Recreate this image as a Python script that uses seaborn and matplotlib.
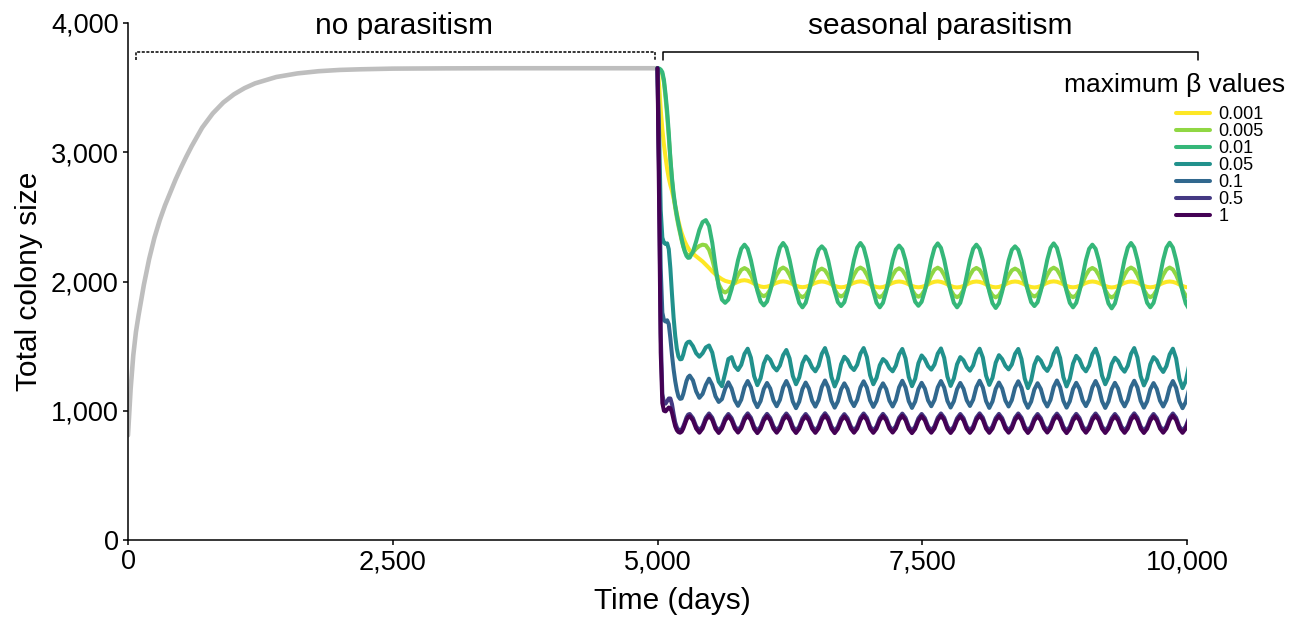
import numpy as np
import pandas as pd
import matplotlib
matplotlib.use("Agg")
import matplotlib.pyplot as plt
from matplotlib.lines import Line2D
from matplotlib.ticker import FuncFormatter
import seaborn as sns

sns.set_theme(style="ticks")
plt.rcParams['font.family'] = ['Liberation Sans', 'DejaVu Sans']
plt.rcParams.update({'axes.edgecolor': 'black', 'text.color': 'black',
                     'xtick.color': 'black', 'ytick.color': 'black',
                     'axes.labelcolor': 'black'})

# ---------------- data ----------------
beta_labels = ["0.001", "0.005", "0.01", "0.05", "0.1", "0.5", "1"]

# phase 1: no parasitism (days 0-5000)
no_par_time = [0, 25, 50, 75, 100, 150, 200, 250, 300, 350, 400, 450, 500, 550, 600,
               700, 800, 900, 1000, 1100, 1200, 1400, 1600, 1800, 2000, 2200, 2500,
               3000, 3500, 5000]
no_par_size = [810, 1170, 1430, 1610, 1740, 1975, 2175, 2340, 2475, 2590, 2690, 2790,
               2880, 2965, 3045, 3190, 3300, 3385, 3448, 3496, 3533, 3582, 3610, 3627,
               3637, 3642, 3647, 3649, 3650, 3650]

# phase 2: seasonal parasitism (days 5000-10000), sampling times
t_early = 5000 + (365 / 24) * np.arange(20)
t_late = 5000 + (365 / 12) * np.arange(10, 168)
par_time = np.concatenate([t_early, t_late])

size_0001 = [
    3650, 3520, 3330, 3180, 3060, 2960, 2870, 2800, 2745, 2700,
    2645, 2585, 2525, 2468, 2418, 2375, 2340, 2308, 2282, 2260,
    2240, 2215,
    2195, 2175, 2155, 2130, 2105, 2078, 2055, 2035, 2018, 2005, 1998, 1993,
    1986, 1998, 2007, 2010, 2006, 1996, 1983, 1970, 1961, 1957, 1960, 1968,
    1979, 1990, 1998, 2001, 1998, 1990, 1979, 1967, 1959, 1956, 1959, 1967,
    1978, 1989, 1997, 2000, 1997, 1989, 1978, 1966, 1958, 1955, 1958, 1966,
    1979, 1990, 1998, 2001, 1998, 1989, 1977, 1965, 1957, 1954, 1957, 1966,
    1978, 1989, 1997, 2000, 1997, 1989, 1978, 1966, 1958, 1955, 1958, 1966,
    1978, 1990, 1998, 2001, 1997, 1989, 1978, 1966, 1957, 1954, 1957, 1965,
    1977, 1989, 1997, 2000, 1997, 1989, 1978, 1966, 1958, 1955, 1958, 1966,
    1978, 1989, 1997, 2000, 1997, 1988, 1977, 1965, 1957, 1954, 1957, 1966,
    1978, 1990, 1998, 2001, 1998, 1989, 1978, 1966, 1958, 1955, 1958, 1966,
    1977, 1989, 1997, 2000, 1997, 1989, 1978, 1966, 1957, 1954, 1957, 1965,
    1977, 1989, 1997, 2000, 1997, 1989, 1978, 1966, 1958, 1955, 1958, 1966,
    1978, 1989, 1997, 2000, 1997, 1989, 1977, 1965, 1957, 1954, 1957, 1966,
]

size_0005 = [
    3650, 3645, 3630, 3605, 3540, 3420, 3280, 3110, 2930, 2780,
    2660, 2570, 2495, 2430, 2372, 2318, 2270, 2235, 2212, 2203,
    2205, 2225,
    2255, 2275, 2285, 2280, 2245, 2170, 2070, 1980, 1930, 1915, 1930, 1965,
    1995, 2050, 2090, 2104, 2090, 2050, 1995, 1940, 1900, 1886, 1900, 1938,
    1994, 2051, 2093, 2108, 2093, 2051, 1994, 1936, 1894, 1878, 1894, 1936,
    1993, 2047, 2086, 2100, 2086, 2047, 1993, 1938, 1898, 1884, 1898, 1938,
    1994, 2051, 2093, 2108, 2093, 2051, 1994, 1936, 1894, 1878, 1894, 1936,
    1993, 2048, 2088, 2102, 2088, 2048, 1993, 1937, 1897, 1882, 1897, 1937,
    1994, 2050, 2092, 2107, 2092, 2050, 1994, 1936, 1894, 1878, 1894, 1936,
    1993, 2049, 2090, 2105, 2090, 2049, 1993, 1935, 1893, 1877, 1893, 1935,
    1993, 2047, 2086, 2100, 2086, 2047, 1993, 1938, 1898, 1884, 1898, 1938,
    1994, 2050, 2092, 2107, 2092, 2050, 1994, 1936, 1894, 1878, 1894, 1936,
    1993, 2049, 2090, 2105, 2090, 2049, 1993, 1935, 1892, 1876, 1892, 1935,
    1994, 2051, 2093, 2108, 2093, 2051, 1994, 1936, 1894, 1878, 1894, 1936,
    1994, 2051, 2093, 2108, 2093, 2051, 1993, 1934, 1891, 1875, 1891, 1934,
]

size_001 = [
    3650, 3648, 3640, 3620, 3560, 3450, 3320, 3150, 2950, 2800,
    2680, 2590, 2515, 2450, 2390, 2330, 2275, 2230, 2198, 2183,
    2185, 2230,
    2310, 2400, 2460, 2475, 2430, 2300, 2120, 1960, 1860, 1835, 1860, 1940,
    2045, 2165, 2253, 2285, 2253, 2165, 2045, 1928, 1845, 1815, 1845, 1928,
    2045, 2168, 2262, 2298, 2262, 2168, 2045, 1925, 1835, 1800, 1835, 1925,
    2045, 2162, 2245, 2272, 2245, 2162, 2045, 1927, 1840, 1810, 1840, 1927,
    2045, 2168, 2262, 2298, 2262, 2168, 2045, 1925, 1835, 1800, 1835, 1925,
    2045, 2163, 2248, 2278, 2248, 2163, 2045, 1928, 1843, 1812, 1843, 1928,
    2045, 2168, 2260, 2295, 2260, 2168, 2045, 1925, 1835, 1800, 1835, 1925,
    2045, 2165, 2253, 2285, 2253, 2165, 2045, 1922, 1832, 1795, 1832, 1922,
    2045, 2162, 2245, 2272, 2245, 2162, 2045, 1927, 1840, 1810, 1840, 1927,
    2045, 2168, 2260, 2295, 2260, 2168, 2045, 1925, 1835, 1800, 1835, 1925,
    2045, 2165, 2253, 2285, 2253, 2165, 2045, 1922, 1830, 1792, 1830, 1922,
    2045, 2168, 2262, 2298, 2262, 2168, 2045, 1925, 1835, 1800, 1835, 1925,
    2045, 2168, 2262, 2300, 2262, 2168, 2045, 1922, 1830, 1788, 1830, 1922,
]

size_005 = [
    3650, 3150, 2550, 2340, 2300, 2290, 2295, 2250, 2100, 1900,
    1720, 1580, 1480, 1420, 1398, 1400, 1435, 1485, 1520, 1532,
    1535, 1500,
    1445, 1418, 1445, 1490, 1505, 1450, 1330, 1225, 1190, 1290, 1400, 1415,
    1345, 1315, 1355, 1440, 1480, 1410, 1268, 1198, 1252, 1365, 1422, 1395,
    1340, 1312, 1350, 1430, 1470, 1405, 1270, 1205, 1258, 1368, 1420, 1390,
    1335, 1305, 1348, 1440, 1485, 1410, 1262, 1188, 1246, 1360, 1418, 1392,
    1340, 1315, 1356, 1442, 1485, 1415, 1275, 1205, 1255, 1352, 1400, 1378,
    1330, 1305, 1350, 1436, 1478, 1405, 1262, 1190, 1248, 1368, 1428, 1398,
    1345, 1318, 1358, 1442, 1482, 1410, 1265, 1192, 1250, 1360, 1415, 1390,
    1338, 1310, 1352, 1438, 1480, 1412, 1272, 1200, 1255, 1372, 1430, 1400,
    1348, 1320, 1358, 1440, 1478, 1400, 1250, 1175, 1236, 1356, 1415, 1388,
    1336, 1308, 1352, 1440, 1484, 1408, 1260, 1188, 1248, 1365, 1425, 1396,
    1335, 1305, 1350, 1438, 1480, 1410, 1272, 1205, 1258, 1362, 1410, 1385,
    1332, 1302, 1348, 1440, 1485, 1412, 1268, 1196, 1250, 1360, 1415, 1390,
    1335, 1300, 1346, 1436, 1480, 1405, 1250, 1175, 1230, 1345, 1405, 1380,
]

size_01 = [
    3650, 2900, 2100, 1760, 1700, 1690, 1700, 1670, 1560, 1430,
    1320, 1230, 1160, 1110, 1092, 1095, 1130, 1180, 1230, 1260,
    1272, 1235,
    1150, 1100, 1130, 1200, 1248, 1200, 1112, 1068, 1090, 1170, 1220, 1172,
    1082, 1038, 1086, 1182, 1230, 1180, 1078, 1028, 1075, 1168, 1215, 1172,
    1080, 1035, 1084, 1181, 1230, 1177, 1072, 1020, 1070, 1168, 1218, 1172,
    1078, 1032, 1083, 1183, 1234, 1181, 1076, 1024, 1072, 1165, 1212, 1168,
    1080, 1036, 1085, 1180, 1228, 1179, 1080, 1030, 1076, 1166, 1212, 1168,
    1078, 1033, 1083, 1181, 1232, 1180, 1074, 1022, 1071, 1168, 1216, 1171,
    1080, 1035, 1084, 1181, 1230, 1179, 1076, 1025, 1073, 1167, 1215, 1170,
    1081, 1037, 1086, 1183, 1232, 1180, 1075, 1022, 1072, 1169, 1218, 1172,
    1079, 1033, 1082, 1179, 1228, 1177, 1074, 1023, 1071, 1165, 1213, 1168,
    1078, 1033, 1084, 1184, 1234, 1182, 1077, 1024, 1073, 1168, 1216, 1170,
    1080, 1036, 1085, 1181, 1230, 1178, 1074, 1022, 1071, 1167, 1216, 1171,
    1079, 1034, 1084, 1182, 1232, 1180, 1076, 1024, 1072, 1166, 1214, 1169,
    1078, 1033, 1083, 1180, 1230, 1178, 1073, 1020, 1068, 1163, 1212, 1168,
]

size_05 = [
    3650, 2800, 1600, 1130, 1060, 1055, 1075, 1095, 1095, 1050,
    975, 910, 872, 852, 846, 854, 879, 912, 948, 970,
    975, 943,
    879, 847, 880, 946, 979, 946, 878, 845, 878, 942, 975, 943,
    880, 848, 881, 947, 980, 946, 877, 844, 877, 942, 976, 944,
    879, 847, 880, 946, 979, 946, 878, 845, 878, 942, 975, 943,
    878, 846, 880, 947, 981, 947, 878, 844, 877, 941, 974, 942,
    879, 847, 880, 946, 979, 946, 878, 846, 879, 943, 976, 944,
    880, 848, 881, 946, 978, 945, 877, 844, 877, 942, 975, 943,
    879, 847, 880, 946, 979, 946, 878, 845, 878, 942, 975, 943,
    878, 846, 880, 947, 980, 947, 879, 846, 879, 943, 976, 943,
    879, 847, 880, 946, 979, 946, 878, 845, 878, 942, 975, 943,
    880, 848, 881, 946, 978, 945, 877, 844, 877, 942, 976, 944,
    879, 847, 880, 946, 979, 946, 878, 845, 878, 942, 975, 943,
    878, 846, 880, 947, 980, 946, 878, 845, 878, 942, 975, 943,
    879, 847, 880, 946, 979, 946, 878, 846, 879, 943, 975, 943,
]

size_1 = [
    3650, 2600, 1450, 1060, 1000, 995, 1010, 1025, 1020, 985,
    930, 880, 850, 835, 830, 838, 862, 895, 930, 952,
    958, 926,
    862, 830, 863, 929, 962, 929, 861, 828, 861, 925, 958, 926,
    863, 831, 864, 930, 963, 929, 860, 827, 860, 925, 959, 927,
    862, 830, 863, 929, 962, 929, 861, 828, 861, 925, 958, 926,
    861, 829, 863, 930, 964, 930, 861, 827, 860, 924, 957, 925,
    862, 830, 863, 929, 962, 929, 861, 829, 862, 926, 959, 927,
    863, 831, 864, 929, 961, 928, 860, 827, 860, 925, 958, 926,
    862, 830, 863, 929, 962, 929, 861, 828, 861, 925, 958, 926,
    861, 829, 863, 930, 963, 930, 862, 829, 862, 926, 959, 926,
    862, 830, 863, 929, 962, 929, 861, 828, 861, 925, 958, 926,
    863, 831, 864, 929, 961, 928, 860, 827, 860, 925, 959, 927,
    862, 830, 863, 929, 962, 929, 861, 828, 861, 925, 958, 926,
    861, 829, 863, 930, 963, 929, 861, 828, 861, 925, 958, 926,
    862, 830, 863, 929, 962, 929, 861, 829, 862, 926, 958, 926,
]

par_sizes = [size_0001, size_0005, size_001, size_005, size_01, size_05, size_1]

# ---------------- build long table ----------------
df = pd.DataFrame({
    "time": np.tile(par_time, len(beta_labels)),
    "size": np.concatenate([np.asarray(s, dtype=float) for s in par_sizes]),
    "beta": np.repeat(beta_labels, len(par_time)),
})
gray_df = pd.DataFrame({"time": no_par_time, "size": no_par_size})

colors = [matplotlib.colors.to_hex(c) for c in plt.get_cmap("viridis")(np.linspace(1, 0, 7))]
palette = dict(zip(beta_labels, colors))

# ---------------- figure ----------------
W, H = 1294, 621
fig = plt.figure(figsize=(W / 100, H / 100), dpi=100)
ax = fig.add_axes([128 / W, 1 - 540 / H, (1187 - 128) / W, (540 - 23) / H])

sns.lineplot(data=gray_df, x="time", y="size", color="#bebebe", lw=3.3, ax=ax,
             estimator=None, sort=False)
sns.lineplot(data=df, x="time", y="size", hue="beta", hue_order=beta_labels,
             palette=palette, lw=2.9, ax=ax, legend=False, estimator=None, sort=False)

ax.set_xlim(0, 10000)
ax.set_ylim(0, 4000)
ax.set_xticks([0, 2500, 5000, 7500, 10000])
ax.set_yticks([0, 1000, 2000, 3000, 4000])
fmt = FuncFormatter(lambda v, p: f"{int(round(v)):,}")
ax.xaxis.set_major_formatter(fmt)
ax.yaxis.set_major_formatter(fmt)
sns.despine(ax=ax)
for s in ["left", "bottom"]:
    ax.spines[s].set_linewidth(1.1)
ax.tick_params(labelsize=19.5, length=3.6, width=1.1, pad=3)
ax.set_xlabel("Time (days)", fontsize=21.5, labelpad=6)
ax.set_ylabel("Total colony size", fontsize=21.5, labelpad=6)
ax.xaxis.set_label_coords(0.514, -0.09)

# brackets and phase annotations
ax.plot([76, 76, 4976, 4976], [3714, 3776, 3776, 3714], color="black", lw=1.1,
        ls=(0, (2, 1)), clip_on=False)
ax.plot([5052, 5052, 10104, 10104], [3714, 3776, 3776, 3714], color="black", lw=1.1,
        clip_on=False)
ax.text(2606, 3977, "no parasitism", ha="center", va="center", fontsize=21.5, clip_on=False)
ax.text(7668, 3977, "seasonal parasitism", ha="center", va="center", fontsize=21.5,
        clip_on=False)

# legend
handles = [Line2D([0], [0], color=palette[b], lw=2.9) for b in beta_labels]
ax.legend(handles, beta_labels, loc="upper left",
          bbox_to_anchor=(1176 / W, 1 - 106 / H), bbox_transform=fig.transFigure,
          frameon=False, fontsize=13, handlelength=1.9, handletextpad=0.45,
          labelspacing=0.0, borderpad=0, borderaxespad=0)
fig.text(1285 / W, 1 - 85 / H, "maximum β values", ha="right", va="center", fontsize=19)

fig.savefig("out.png", dpi=100)
